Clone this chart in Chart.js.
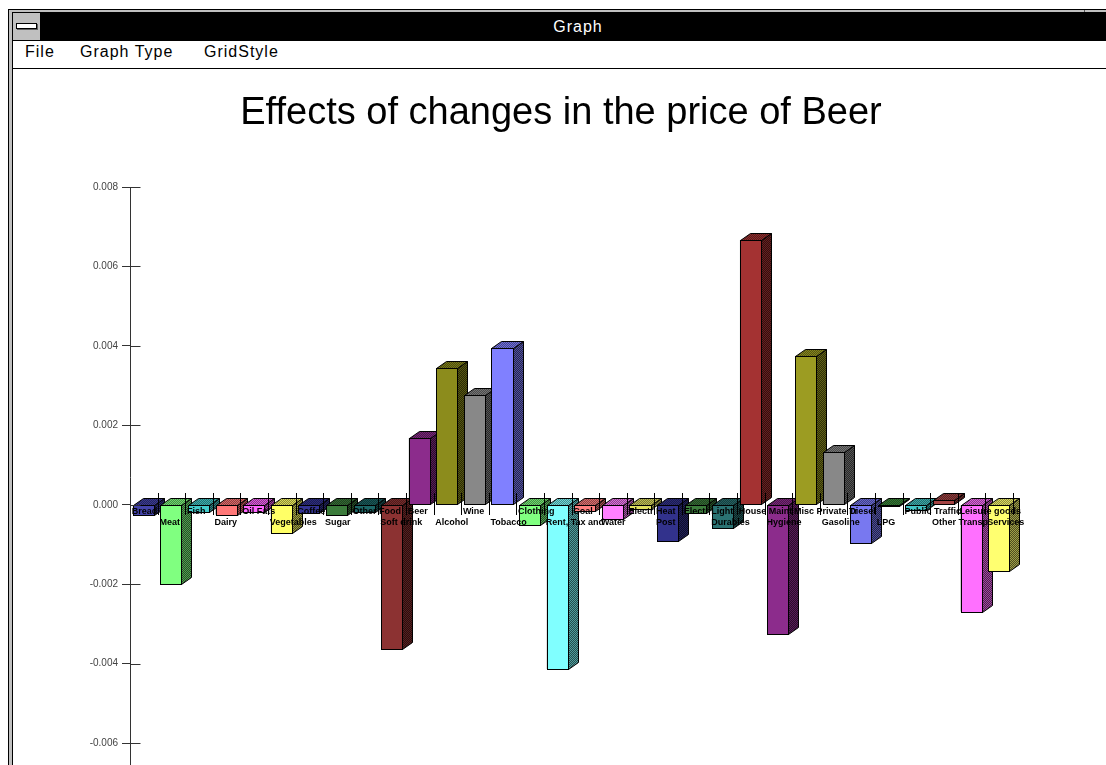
<!DOCTYPE html>
<html>
<head>
<meta charset="utf-8">
<script src="https://cdn.jsdelivr.net/npm/chart.js@4.4.1/dist/chart.umd.min.js"></script>
<style>
  html, body { margin:0; padding:0; background:#fff; overflow:hidden; width:1106px; height:765px; }
  .abs { position:absolute; }
  #wrap { position:absolute; left:0; top:0; width:1106px; height:770px; }
  .menu { position:absolute; top:44px; font:16px "Liberation Sans", Arial, sans-serif; line-height:16px; letter-spacing:1px; color:#000; }
  #wtitle { position:absolute; left:0; top:12px; width:1156px; height:29px; text-align:center; color:#fff;
            font:16px "Liberation Sans", Arial, sans-serif; line-height:29px; letter-spacing:1px; }
</style>
</head>
<body>
<!-- window frame -->
<div class="abs" style="left:8px;top:9px;width:1098px;height:1px;background:#000"></div>
<div class="abs" style="left:9px;top:10px;width:1097px;height:2px;background:#c0c0c0"></div>
<div class="abs" style="left:1084px;top:10px;width:1px;height:2px;background:#555"></div>
<div class="abs" style="left:8px;top:9px;width:1px;height:756px;background:#000"></div>
<div class="abs" style="left:9px;top:10px;width:3px;height:755px;background:#c0c0c0"></div>
<div class="abs" style="left:12px;top:12px;width:1px;height:753px;background:#000"></div>
<div class="abs" style="left:12px;top:12px;width:1094px;height:29px;background:#000"></div>
<div class="abs" style="left:13px;top:13px;width:27px;height:27px;background:#c0c0c0"></div>
<div class="abs" style="left:16px;top:23px;width:19px;height:4px;background:#fff;border:1px solid #000;box-shadow:1px 1px 0 #606060"></div>
<div id="wtitle">Graph</div>
<div class="menu" style="left:25px">File</div>
<div class="menu" style="left:80px">Graph Type</div>
<div class="menu" style="left:204px">GridStyle</div>
<div class="abs" style="left:12px;top:68px;width:1094px;height:1px;background:#000"></div>

<div id="wrap"><canvas id="c"></canvas></div>

<script>
// ---------------- data ----------------
const categories = [
  'Bread','Meat','Fish','Dairy','Oil Fats','Vegetables','Coffee','Sugar',
  'Other Food','Soft drink','Beer','Alcohol','Wine','Tobacco','Clothing','Rent, Tax and',
  'Coal','Water','Electr Heat','Post','Electr Light','Durables','House Maint','Hygiene',
  'Misc Private Tr','Gasoline','Diesel','LPG','Public Traffic','Other Transp','Leisure goods','Services'
];
const effects = [
  -0.00025, -0.00199, -0.00018, -0.00025, -0.00017, -0.00070, -0.00020, -0.00025,
  -0.00018, -0.00362,  0.00169,  0.00345,  0.00277,  0.00395, -0.00050, -0.00413,
  -0.00015, -0.00035, -0.00010, -0.00090, -0.00020, -0.00058,  0.00667, -0.00325,
   0.00375,  0.00133, -0.00096, -0.00002, -0.00012,  0.00012, -0.00269, -0.00166
];
const yTickValues = [-0.006, -0.004, -0.002, 0.000, 0.002, 0.004, 0.006, 0.008];
const yRange = [-0.0066, 0.008];
const chartTitle = 'Effects of changes in the price of Beer';

// ---------------- styles ----------------
const frontColors = [
  '#4444aa','#80ff80','#44cccc','#ff7878','#ff66ff','#ffff66','#343494','#3c7c3c',
  '#1c6666','#8c3232','#8c2c8c','#8c8c1c','#888888','#8080ff','#80ff80','#80ffff',
  '#ff8080','#ff80ff','#e0e060','#32328c','#3c7c3c','#2a7272','#a43232','#8c2c8c',
  '#9c9c22','#888888','#7878f0','#3c8c3c','#44c4c4','#a44444','#ff70ff','#ffff70'
];
function shade(hex, f) {
  const n = parseInt(hex.slice(1), 16);
  const r = (n >> 16) & 255, g = (n >> 8) & 255, b = n & 255;
  return 'rgb(' + Math.round(r * f) + ',' + Math.round(g * f) + ',' + Math.round(b * f) + ')';
}
function checker(ctx, c1, c2) {
  const cv = document.createElement('canvas');
  cv.width = 2; cv.height = 2;
  const x = cv.getContext('2d');
  x.fillStyle = c1; x.fillRect(0, 0, 2, 2);
  x.fillStyle = c2; x.fillRect(1, 0, 1, 1); x.fillRect(0, 1, 1, 1);
  return ctx.createPattern(cv, 'repeat');
}
const FONT = '"Liberation Sans", Arial, sans-serif';
Chart.defaults.font.family = FONT;

const fmtY = v => (Math.abs(v) < 1e-12 ? '0.000' : Number(v).toFixed(3));
const Y_FONT_SIZE = 10;
const mctx = document.createElement('canvas').getContext('2d');
mctx.font = 'normal ' + Y_FONT_SIZE + 'px ' + FONT;
const yLabelW = Math.max.apply(null, yTickValues.map(v => mctx.measureText(fmtY(v)).width));

const bars3d = {
  id: 'bars3d',
  afterDatasetsDraw(chart) {
    const ctx = chart.ctx;
    const meta = chart.getDatasetMeta(0);
    const xs = chart.scales.x, ys = chart.scales.y;
    const dx = 10, dy = -7;
    ctx.save();
    ctx.lineWidth = 1;
    ctx.strokeStyle = '#000';
    meta.data.forEach((el, i) => {
      const p = el.getProps(['x', 'y', 'base', 'width'], true);
      const l = Math.round(p.x - p.width / 2) + 0.5;
      const r = Math.round(p.x + p.width / 2) - 0.5;
      const t = Math.round(Math.min(p.y, p.base)) + 0.5;
      const b = Math.round(Math.max(p.y, p.base)) + 0.5;
      const fc = frontColors[i];
      // side face
      ctx.beginPath();
      ctx.moveTo(r, t); ctx.lineTo(r + dx, t + dy); ctx.lineTo(r + dx, b + dy); ctx.lineTo(r, b); ctx.closePath();
      ctx.fillStyle = checker(ctx, shade(fc, 0.62), shade(fc, 0.3));
      ctx.fill(); ctx.stroke();
      // top face
      ctx.beginPath();
      ctx.moveTo(l, t); ctx.lineTo(l + dx, t + dy); ctx.lineTo(r + dx, t + dy); ctx.lineTo(r, t); ctx.closePath();
      ctx.fillStyle = checker(ctx, shade(fc, 0.85), shade(fc, 0.55));
      ctx.fill(); ctx.stroke();
      // front face
      ctx.fillStyle = fc;
      ctx.fillRect(l, t, r - l, b - t);
      ctx.strokeRect(l, t, r - l, b - t);
    });
    // category boundary ticks across the zero line
    const y0 = Math.round(ys.getPixelForValue(0));
    const n = categories.length;
    for (let i = 0; i < n; i++) {
      const cx = xs.getPixelForValue(i);
      const nx = i < n - 1 ? xs.getPixelForValue(i + 1) : cx + (cx - xs.getPixelForValue(i - 1));
      const bx = Math.round((cx + nx) / 2) + 0.5;
      ctx.beginPath(); ctx.moveTo(bx, y0 - 12); ctx.lineTo(bx, y0 + 10); ctx.stroke();
    }
    // inner part of y ticks
    ctx.strokeStyle = '#333';
    const ax = Math.round(xs.left) + 0.5;
    ys.ticks.forEach(tk => {
      const py = Math.round(ys.getPixelForValue(tk.value)) + 0.5;
      ctx.beginPath(); ctx.moveTo(ax, py); ctx.lineTo(ax + 10, py); ctx.stroke();
    });
    ctx.restore();
  }
};

new Chart(document.getElementById('c'), {
  type: 'bar',
  data: {
    labels: categories,
    datasets: [{
      data: effects,
      backgroundColor: frontColors,
      borderColor: '#000',
      borderWidth: 1,
      barPercentage: 0.8,
      categoryPercentage: 1.0
    }]
  },
  options: {
    responsive: true,
    maintainAspectRatio: false,
    animation: false,
    events: [],
    layout: { padding: { left: 109, right: 93, top: 0, bottom: 3 } },
    plugins: {
      legend: { display: false },
      tooltip: { enabled: false },
      title: {
        display: true,
        text: chartTitle,
        color: '#000',
        font: { family: FONT, size: 38, weight: 'normal', lineHeight: 1.2 },
        padding: { top: 91, bottom: 50.4 }
      }
    },
    scales: {
      x: {
        type: 'category',
        position: { y: 0 },
        offset: true,
        grid: { display: false, drawTicks: false },
        border: { display: false },
        afterFit(s) { s.paddingLeft = 0; s.paddingRight = 0; },
        ticks: {
          z: 1,
          autoSkip: false, maxRotation: 0, minRotation: 0,
          align: 'start', labelOffset: -12, padding: 2,
          color: '#000',
          font: { family: FONT, size: 9, weight: 'bold', lineHeight: 1.15 },
          callback: (v, i) => (i % 2 === 0 ? [categories[i]] : ['', categories[i]])
        }
      },
      y: {
        min: yRange[0],
        max: yRange[1],
        afterFit(s) { s.width = 21; s.paddingTop = 0; s.paddingBottom = 0; },
        afterBuildTicks(s) { s.ticks = yTickValues.map(v => ({ value: v })); },
        grid: { drawOnChartArea: false, drawTicks: true, tickLength: 8, color: '#333' },
        border: { display: true, color: '#333', width: 1 },
        ticks: {
          mirror: true,
          crossAlign: 'far',
          padding: -12 - yLabelW,
          color: '#444',
          font: { family: FONT, size: Y_FONT_SIZE },
          callback: v => fmtY(v)
        }
      }
    }
  },
  plugins: [bars3d]
});
</script>
</body>
</html>
